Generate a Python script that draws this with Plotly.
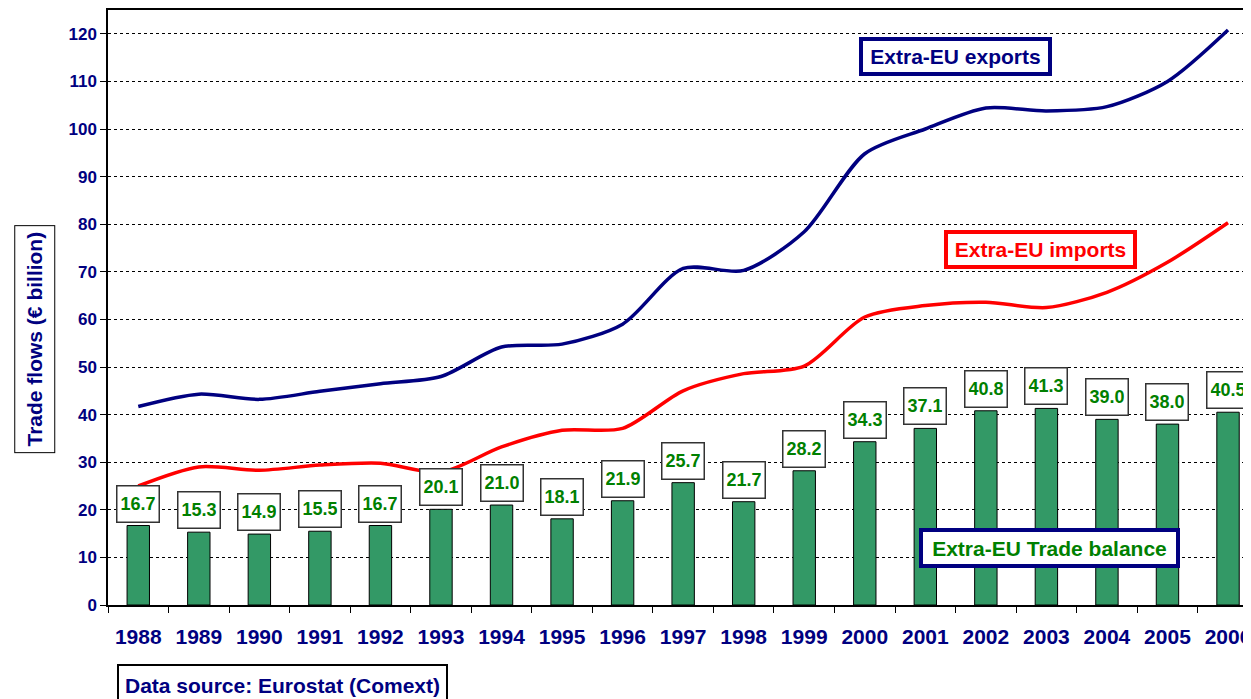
import plotly.graph_objects as go

years = [str(y) for y in range(1988, 2007)]
balance = [16.7, 15.3, 14.9, 15.5, 16.7, 20.1, 21.0, 18.1, 21.9, 25.7, 21.7, 28.2,
           34.3, 37.1, 40.8, 41.3, 39.0, 38.0, 40.5]
exports = [41.7, 44.3, 43.2, 44.9, 46.5, 48.0, 54.2, 54.8, 59.0, 70.7, 70.3, 78.4,
           94.8, 100.0, 104.4, 103.8, 104.7, 110.0, 120.8]
imports = [25.0, 29.0, 28.3, 29.4, 29.8, 27.9, 33.2, 36.7, 37.1, 45.0, 48.6, 50.2,
           60.5, 62.9, 63.6, 62.5, 65.7, 72.0, 80.3]

NAVY = "#000080"
GREEN_BAR = "#339966"
GREEN_TXT = "#008000"
RED = "#FF0000"
FONT = "Liberation Sans, Arial, sans-serif"

fig = go.Figure()
fig.add_trace(go.Bar(x=years, y=balance, width=0.37,
                     marker=dict(color=GREEN_BAR, line=dict(color="#000000", width=1)),
                     showlegend=False, hoverinfo="skip"))
fig.add_trace(go.Scatter(x=years, y=exports, mode="lines",
                         line=dict(color=NAVY, width=3.5, shape="spline", smoothing=0.8),
                         showlegend=False))
fig.add_trace(go.Scatter(x=years, y=imports, mode="lines",
                         line=dict(color=RED, width=3.5, shape="spline", smoothing=0.8),
                         showlegend=False))

annotations = []
for i, v in enumerate(balance):
    annotations.append(dict(x=i, y=v, xref="x", yref="y", text=f"<b>{v:.1f}</b>",
                            showarrow=False, yanchor="bottom", yshift=3,
                            font=dict(family=FONT, size=18, color=GREEN_TXT),
                            bgcolor="white", bordercolor="#333333", borderwidth=1.5,
                            borderpad=3, width=35, height=29))

def box(text, x, y, color, border, w, h, bw=4, pad=4, angle=0, size=21):
    return dict(x=x, y=y, xref="paper", yref="paper", text=f"<b>{text}</b>",
                showarrow=False, xanchor="center", yanchor="middle",
                font=dict(family=FONT, size=size, color=color),
                bgcolor="white", bordercolor=border, borderwidth=bw, borderpad=pad,
                width=w, height=h, textangle=angle)

annotations.append(box("Extra-EU exports", 0.7437, 0.9211, NAVY, NAVY, 177, 23))
annotations.append(box("Extra-EU imports", 0.8176, 0.5982, RED, RED, 177, 23))
annotations.append(box("Extra-EU Trade balance", 0.8255, 0.0965, GREEN_TXT, NAVY, 245, 24))
annotations.append(box("Trade flows (€ billion)", -0.0643, 0.4463, NAVY, "#000000",
                       218, 31, bw=1, pad=4, angle=-90))
annotations.append(box("Data source: Eurostat (Comext)", 0.1527, -0.1342, NAVY, "#000000",
                       319, 30, bw=2, pad=4))

fig.update_layout(
    width=1243, height=691,
    margin=dict(l=100, r=0, t=1, b=94),
    paper_bgcolor="white", plot_bgcolor="white",
    annotations=annotations,
    font=dict(family=FONT),
    xaxis=dict(type="category", range=[-0.5, 18.33], showline=True, linecolor="#000000",
               linewidth=1.5, mirror=True, ticks="outside", ticklen=6, tickcolor="#000000",
               tickson="boundaries", showgrid=False, ticklabelstandoff=12,
               tickfont=dict(family=FONT, size=21, color=NAVY, weight="bold")),
    yaxis=dict(range=[0, 125], tickvals=list(range(0, 121, 10)), showline=True,
               linecolor="#000000", linewidth=1.5, ticks="outside", ticklen=6,
               tickcolor="#000000", showgrid=True, gridcolor="#000000", gridwidth=1,
               griddash="3px,3px", zeroline=False,
               tickfont=dict(family=FONT, size=17, color=NAVY, weight="bold")),
)

fig.write_html("out.html")
